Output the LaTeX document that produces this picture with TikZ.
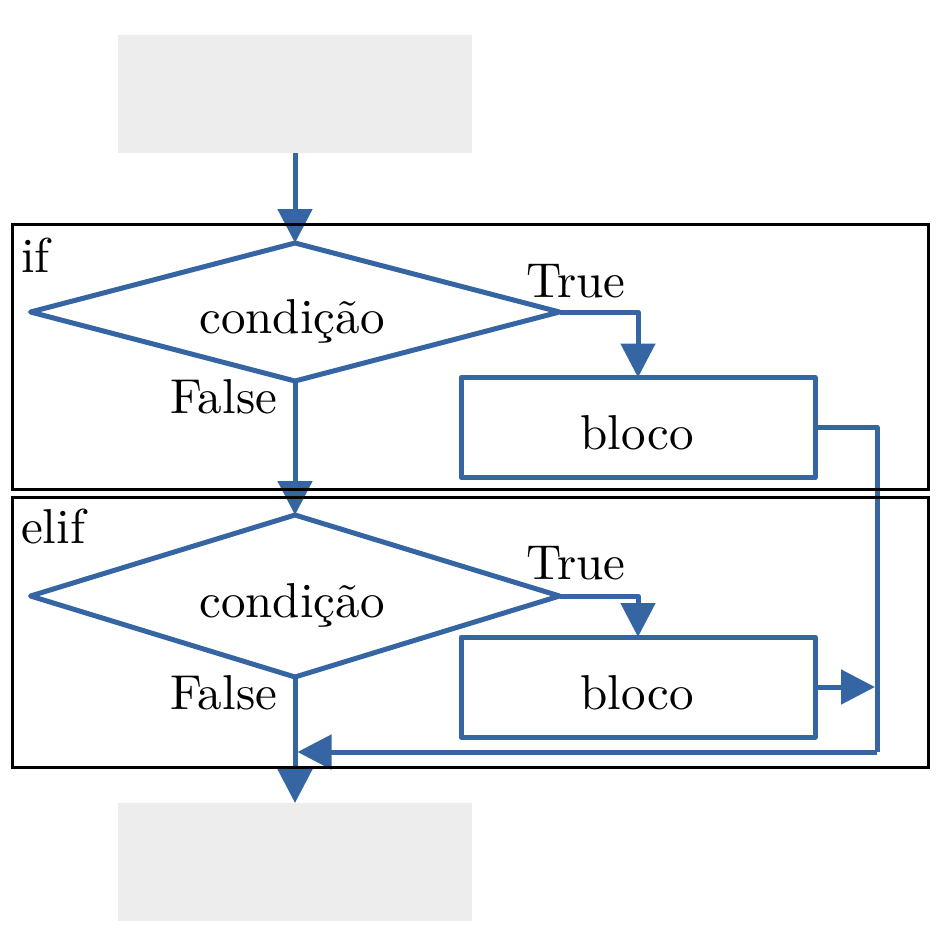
\documentclass[tikz,border=0pt]{standalone}
\usepackage{fontspec}
\setmainfont{lmroman10-regular.otf}
\usetikzlibrary{shapes.geometric,arrows.meta}
\definecolor{flow}{RGB}{54,101,164}
\definecolor{termgray}{RGB}{237,237,237}
\begin{document}
\begin{tikzpicture}[x=1pt,y=-1pt,
  txt/.style={font=\fontsize{49}{56}\selectfont, inner sep=0, outer sep=0},
  cond/.style={diamond, draw=flow, line width=5pt, line join=round, inner sep=0, outer sep=0},
  blk/.style={rectangle, draw=flow, line width=5pt, line join=round, minimum width=354pt, minimum height=100pt, inner sep=0, outer sep=0},
  termbox/.style={rectangle, fill=termgray, minimum width=354pt, minimum height=118pt, inner sep=0, outer sep=0},
  framebox/.style={rectangle, draw=black, line width=3pt, minimum width=916pt, inner sep=0, outer sep=0},
  flowline/.style={draw=flow, line width=5pt, line join=round},
  arr/.style={flowline, -{Triangle[length=34pt,width=34pt]}}
]
\useasboundingbox (0,0) rectangle (945,945);
% terminals
\node[termbox] (t1) at (295,94) {};
\node[termbox] (t2) at (295,862) {};
% decisions
\node[cond, minimum width=529pt, minimum height=138pt] (d1) at (295,312) {};
\node[cond, minimum width=529pt, minimum height=162pt] (d2) at (295,596) {};
% blocks
\node[blk] (b1) at (638,427.5) {};
\node[blk] (b2) at (638,687) {};
% texts
\node[txt, anchor=base] (c1) at (292,333) {condição};
\node[txt, anchor=base] (c2) at (292,617) {condição};
\node[txt, anchor=base] (bl1) at (637,449) {bloco};
\node[txt, anchor=base] (bl2) at (637,709) {bloco};
\node[txt, anchor=base west] (tr1) at (526,297) {True};
\node[txt, anchor=base west] (tr2) at (526,579) {True};
\node[txt, anchor=base west] (f1) at (170,413) {False};
\node[txt, anchor=base west] (f2) at (170,709) {False};
\node[txt, anchor=base west] (lif) at (21,272) {if};
\node[txt, anchor=base west] (lelif) at (21,543) {elif};
% connectors
\coordinate (rt) at (877,752);
\draw[arr] (t1.south) -- (d1.north);
\draw[arr] (d1.south) -- (d2.north);
\draw[arr] (d1.east) -| (b1.north);
\draw[arr] (d2.east) -| (b2.north);
\draw[flowline] (b1.east) -| (rt);
\draw[arr] (rt) -- ([xshift=2.5pt]d2.south |- rt);
\draw[arr] (b2.east) -- ([xshift=-2pt]b2.east -| rt);
\draw[arr] (d2.south) -- (t2.north);
% frames
\node[framebox, minimum height=265pt] (fif) at (470,356.5) {};
\node[framebox, minimum height=270pt] (felif) at (470,632) {};
\end{tikzpicture}
\end{document}
